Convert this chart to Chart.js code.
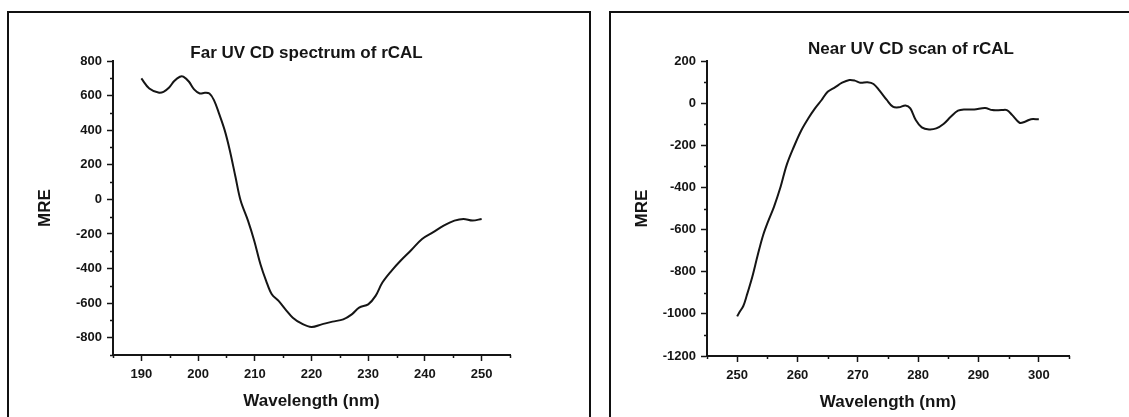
<!DOCTYPE html>
<html>
<head>
<meta charset="utf-8">
<title>CD spectra of rCAL</title>
<script src="https://cdn.jsdelivr.net/npm/chart.js@4"></script>
<style>
  html, body { margin: 0; padding: 0; background: #fff; overflow: hidden; width: 1129px; height: 417px; }
  .panel { position: absolute; top: 11px; height: 420px; border: 2px solid #111; box-sizing: border-box; background: #fff; }
  #farPanel { left: 7px; width: 584px; }
  #nearPanel { left: 609px; width: 540px; }
  canvas { display: block; }
</style>
</head>
<body>
<div class="panel" id="farPanel"><canvas id="farChart" width="580" height="416"></canvas></div>
<div class="panel" id="nearPanel"><canvas id="nearChart" width="536" height="416"></canvas></div>
<script>
// Far UV scan (190-250 nm)
const farWavelength = [190, 191.4, 193, 193.9, 194.9, 195.8, 196.8, 197.4, 198.4, 199.3, 200.3, 201.2, 202, 202.8, 203.7, 204.7, 205.6, 206.6, 207.5, 208.8, 209.9, 211, 212, 213, 214.2, 215.4, 216.7, 218.3, 220, 221.8, 223.7, 225.6, 227.1, 228.4, 230, 231.3, 232.5, 234.1, 235.7, 237.6, 239.5, 241.4, 243.3, 245.2, 246.8, 248.4, 250];
const farMRE = [699, 641, 618, 622, 647, 684, 709, 709, 680, 636, 612, 616, 612, 574, 496, 399, 283, 129, -7, -123, -239, -375, -471, -549, -587, -636, -684, -719, -738, -723, -707, -694, -665, -626, -607, -558, -481, -413, -355, -293, -229, -191, -152, -123, -113, -123, -113];
const farXTicks = [190, 200, 210, 220, 230, 240, 250];
const farYTicks = [-800, -600, -400, -200, 0, 200, 400, 600, 800];

// Near UV scan (250-300 nm)
const nearWavelength = [250, 250.4, 251, 251.6, 252.5, 253.4, 254.3, 255.2, 256.1, 257.2, 258.2, 259.4, 260.6, 261.8, 262.9, 264, 265, 266.2, 267.4, 268.6, 269.5, 270.4, 271.6, 272.6, 273.6, 274.8, 275.8, 276.8, 277.9, 278.7, 279.6, 280.6, 281.8, 283, 284.2, 285.4, 286.6, 287.8, 289.3, 291.1, 292.3, 293.8, 294.7, 295.6, 296.8, 297.7, 298.7, 300];
const nearMRE = [-1012, -991, -964, -912, -825, -722, -627, -556, -492, -397, -294, -207, -131, -72, -25, 15, 54, 75, 97, 110, 107, 97, 99, 91, 59, 15, -17, -20, -11, -25, -80, -115, -125, -120, -99, -65, -36, -30, -30, -23, -33, -33, -33, -57, -93, -88, -76, -77];
const nearXTicks = [250, 260, 270, 280, 290, 300];
const nearYTicks = [-1200, -1000, -800, -600, -400, -200, 0, 200];

const farRange = { xMin: 185, xMax: 255, yMin: -900, yMax: 800 };
const nearRange = { xMin: 245, xMax: 305, yMin: -1200, yMax: 200 };

const ink = '#151515';
const fontFamily = '"Liberation Sans", Arial, sans-serif';
const tickFont = { family: fontFamily, size: 13, weight: 'bold' };
const axisTitleFont = { family: fontFamily, size: 17, weight: 'bold' };

// heading drawn above the plot area
const panelTitle = {
  id: 'panelTitle',
  afterDraw(chart, args, opts) {
    const { ctx, chartArea } = chart;
    ctx.save();
    ctx.font = 'bold 17px ' + fontFamily;
    ctx.fillStyle = ink;
    ctx.textAlign = 'center';
    ctx.textBaseline = 'middle';
    ctx.fillText(opts.text, (chartArea.left + chartArea.right) / 2 + opts.dx, opts.y);
    ctx.restore();
  }
};

// short unlabelled ticks between the major ones
const minorTicks = {
  id: 'minorTicks',
  afterDraw(chart, args, opts) {
    const { ctx } = chart;
    const xs = chart.scales.x, ys = chart.scales.y;
    ctx.save();
    ctx.strokeStyle = ink;
    ctx.lineWidth = 1.5;
    ctx.beginPath();
    for (let v = xs.min; v <= xs.max; v += opts.xStep) {
      if (v % opts.xMajor === 0) continue;
      const px = Math.round(xs.getPixelForValue(v)) + 0.5;
      ctx.moveTo(px, xs.top);
      ctx.lineTo(px, xs.top + opts.length);
    }
    for (let v = ys.min; v <= ys.max; v += opts.yStep) {
      if (v % opts.yMajor === 0) continue;
      const py = Math.round(ys.getPixelForValue(v)) + 0.5;
      ctx.moveTo(ys.right, py);
      ctx.lineTo(ys.right - opts.length, py);
    }
    ctx.stroke();
    ctx.restore();
  }
};

function makeChart(id, xs, ys, xTicks, yTicks, range, cfg) {
  const points = xs.map((x, i) => ({ x: x, y: ys[i] }));
  return new Chart(document.getElementById(id), {
    type: 'scatter',
    data: {
      datasets: [{
        data: points,
        showLine: true,
        borderColor: ink,
        borderWidth: 2,
        pointRadius: 0,
        tension: 0.35,
        fill: false
      }]
    },
    options: {
      responsive: false,
      animation: false,
      devicePixelRatio: 1,
      layout: { padding: cfg.padding },
      plugins: {
        legend: { display: false },
        tooltip: { enabled: false },
        panelTitle: cfg.title,
        minorTicks: { xStep: 5, xMajor: 10, yStep: 100, yMajor: 200, length: 3 }
      },
      scales: {
        x: {
          type: 'linear',
          min: range.xMin,
          max: range.xMax,
          afterFit: s => { s.height = cfg.xHeight; },
          afterBuildTicks: s => { s.ticks = xTicks.map(v => ({ value: v })); },
          ticks: { autoSkip: false, maxRotation: 0, padding: 6, color: ink, font: tickFont, callback: v => String(v) },
          grid: { drawOnChartArea: false, drawTicks: true, tickLength: 6, tickWidth: 1.5, tickColor: ink },
          border: { color: ink, width: 2 },
          title: { display: true, text: 'Wavelength (nm)', color: ink, font: axisTitleFont, padding: { top: 0, bottom: cfg.xTitlePad } }
        },
        y: {
          type: 'linear',
          min: range.yMin,
          max: range.yMax,
          afterFit: s => { s.width = cfg.yWidth; },
          afterBuildTicks: s => { s.ticks = yTicks.map(v => ({ value: v })); },
          ticks: { autoSkip: false, padding: 5, color: ink, font: tickFont, callback: v => String(v) },
          grid: { drawOnChartArea: false, drawTicks: true, tickLength: 6, tickWidth: 1.5, tickColor: ink },
          border: { color: ink, width: 2 },
          title: { display: true, text: 'MRE', color: ink, font: axisTitleFont, padding: { top: cfg.yTitlePad, bottom: 0 } }
        }
      }
    },
    plugins: [panelTitle, minorTicks]
  });
}

makeChart('farChart', farWavelength, farMRE, farXTicks, farYTicks, farRange, {
  padding: { left: 0, right: 79, top: 48, bottom: 0 },
  yWidth: 104,
  xHeight: 74,
  xTitlePad: 17,
  yTitlePad: 26,
  title: { text: 'Far UV CD spectrum of rCAL', dx: -5, y: 40 }
});

makeChart('nearChart', nearWavelength, nearMRE, nearXTicks, nearYTicks, nearRange, {
  padding: { left: 0, right: 78, top: 48, bottom: 0 },
  yWidth: 96,
  xHeight: 73,
  xTitlePad: 16,
  yTitlePad: 21,
  title: { text: 'Near UV CD scan of rCAL', dx: 23, y: 36 }
});
</script>
</body>
</html>
